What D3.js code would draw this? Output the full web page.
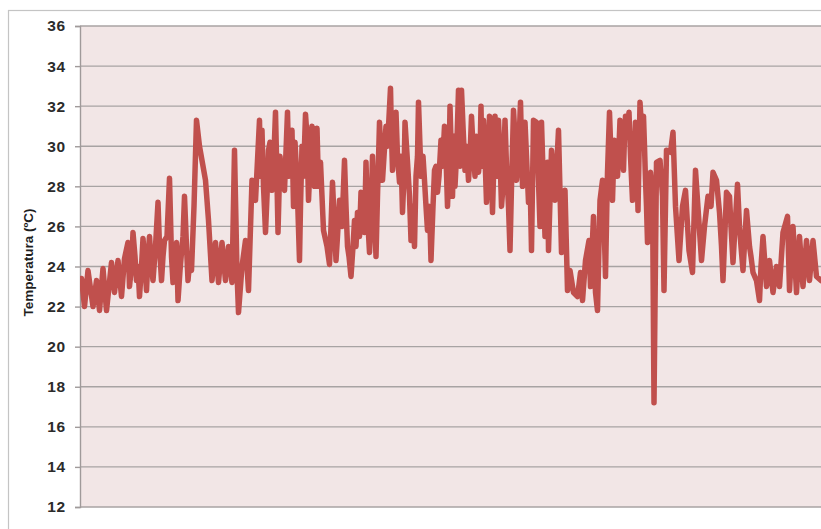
<!DOCTYPE html>
<html>
<head>
<meta charset="utf-8">
<script src="https://cdn.jsdelivr.net/npm/d3@7"></script>
<style>
  html, body { margin: 0; padding: 0; background: #ffffff; }
  svg { display: block; }
</style>
</head>
<body>
<svg id="chart" width="821" height="529"></svg>
<script>
// Temperature log: [hour since start, temperature in ºC]
const readings = [
  [0, 23.0], [3, 23.4], [9, 22.0], [16, 23.8], [26, 22.0], [33, 23.3], [39, 21.8], [46, 23.9],
  [53, 21.8], [63, 24.2], [69, 22.7], [76, 24.3], [83, 22.5], [89, 24.4], [96, 25.2], [99, 23.0],
  [103, 24.0], [106, 25.7], [110, 24.5], [113, 23.3], [116, 24.0], [119, 22.5], [123, 24.0],
  [126, 25.4], [130, 24.0], [133, 22.8], [136, 24.5], [139, 25.5], [143, 24.0], [146, 23.3],
  [151, 25.0], [156, 27.2], [159, 25.0], [163, 23.3], [166, 24.5], [169, 25.3], [174, 25.5],
  [179, 28.4], [183, 24.5], [186, 23.2], [190, 24.0], [193, 25.2], [196, 22.3], [200, 23.8],
  [203, 24.7], [206, 25.5], [209, 27.5], [213, 25.0], [216, 23.3], [220, 24.5], [223, 23.8],
  [228, 27.0], [233, 31.3], [239, 30.0],

  [251, 28.3], [257, 26.3], [264, 23.3], [271, 25.2], [277, 23.2], [284, 25.2], [291, 23.3],
  [297, 25.0], [304, 23.2], [309, 29.8], [314, 23.7], [317, 21.7], [324, 24.0], [331, 25.3],
  [337, 22.8], [344, 28.3], [351, 27.3], [359, 31.3], [361, 28.5], [364, 30.8], [367, 28.0],
  [371, 25.7], [374, 27.5], [377, 29.8], [380, 30.2], [384, 27.8], [387, 29.0], [391, 31.7],
  [393, 29.5], [396, 25.7], [400, 29.5], [404, 28.3], [409, 27.8], [415, 31.7], [418, 28.5],
  [421, 30.3], [424, 30.8], [427, 27.0], [430, 30.2], [434, 28.3], [439, 24.3], [441, 27.0],
  [444, 30.0], [447, 28.5], [451, 31.6], [454, 30.5], [457, 27.3], [460, 29.0], [464, 31.0],
  [469, 28.0], [474, 30.9], [477, 28.0], [481, 29.2], [487, 25.8], [494, 25.0],

  [499, 24.1], [502, 26.0], [505, 28.2], [508, 26.5], [512, 24.3], [515, 25.5], [519, 27.3],
  [524, 26.0], [529, 29.3], [532, 27.0], [535, 25.0], [538, 24.5], [542, 23.5], [546, 25.0],
  [549, 26.3], [552, 25.0], [555, 26.7], [559, 25.5], [562, 27.7], [565, 27.0], [569, 25.7],
  [572, 29.2], [575, 26.5], [579, 24.7], [582, 26.5], [585, 29.5], [589, 26.5], [592, 24.5],
  [595, 27.5], [599, 31.2], [602, 29.5], [605, 28.3], [608, 29.5], [612, 31.0], [615, 30.0],
  [621, 32.9], [623, 30.5], [625, 28.8], [628, 30.0], [632, 31.7], [635, 29.5], [639, 28.2],
  [642, 29.5], [645, 26.7], [648, 28.5], [650, 31.2], [655, 29.2], [659, 27.5], [662, 25.3],
  [665, 27.0], [669, 25.0], [672, 28.5], [675, 29.5], [677, 32.2], [680, 30.0], [682, 28.5],
  [686, 29.5], [689, 28.3], [692, 27.0], [695, 25.8], [699, 27.0], [702, 24.3], [706, 27.0],
  [709, 28.8], [712, 29.0], [715, 27.7], [718, 28.5], [722, 30.3], [725, 29.0], [729, 31.0],
  [732, 29.5], [735, 27.0], [738, 29.0], [740, 32.0],

  [745, 27.5], [748, 30.5], [750, 28.0], [753, 29.5], [757, 32.8], [760, 29.0], [763, 32.8],
  [766, 31.0], [770, 28.8], [773, 30.0], [777, 28.3], [780, 29.5], [783, 31.5], [786, 30.0],
  [790, 28.5], [793, 30.5], [797, 28.7], [800, 29.5], [802, 32.0], [804, 29.0], [807, 31.3],
  [810, 29.5], [813, 27.2], [816, 29.0], [819, 31.5], [822, 29.5], [825, 26.7], [827, 28.5],
  [830, 31.5], [833, 28.5], [837, 31.3], [840, 29.5], [843, 27.0], [846, 28.0], [850, 31.3],
  [853, 29.0], [857, 27.0], [860, 24.8], [863, 28.0], [867, 31.8], [870, 30.5], [873, 28.3],
  [877, 29.5], [881, 32.2], [885, 28.0], [890, 31.2], [893, 29.5], [897, 27.2], [900, 28.5],
  [903, 24.8], [907, 31.3], [913, 31.2], [920, 26.0], [923, 31.2], [930, 25.5], [935, 29.2],
  [937, 24.8], [943, 29.8], [950, 27.3], [957, 30.8], [963, 24.7], [970, 27.8], [975, 22.8],
  [980, 23.8], [987, 22.7],

  [995, 22.5], [1001, 23.7], [1005, 22.3], [1011, 24.3], [1018, 25.3], [1021, 23.0],
  [1027, 26.5], [1031, 22.7], [1035, 21.8], [1040, 27.3], [1045, 28.3], [1048, 26.3],
  [1051, 23.5], [1055, 28.7], [1059, 31.7], [1062, 29.5], [1065, 27.3], [1067, 29.0],
  [1069, 30.3], [1072, 29.5], [1075, 28.5], [1078, 30.0], [1080, 31.3], [1083, 30.0],
  [1087, 28.8], [1089, 30.5], [1091, 31.5], [1094, 30.5], [1098, 31.7], [1101, 29.5],
  [1105, 27.3], [1108, 29.0], [1111, 31.2], [1114, 29.0], [1116, 26.8], [1118, 29.5],
  [1120, 32.2], [1124, 30.5], [1127, 31.5], [1129, 30.0], [1131, 28.3], [1133, 27.0],
  [1135, 25.2], [1138, 27.5], [1141, 28.7], [1145, 27.7], [1148, 17.2], [1153, 29.2],
  [1160, 29.3], [1165, 27.5], [1168, 22.8], [1173, 29.8], [1181, 29.7], [1186, 30.7],
  [1191, 27.0], [1198, 24.3], [1205, 27.0], [1211, 27.8], [1218, 24.8], [1225, 23.7],
  [1231, 28.8],

  [1243, 24.3], [1249, 26.0], [1256, 27.5], [1262, 27.0], [1266, 28.7], [1273, 28.3],
  [1279, 26.7], [1283, 25.0], [1286, 23.3], [1293, 27.7], [1299, 27.5], [1302, 26.0],
  [1306, 24.2], [1315, 28.1], [1319, 26.0], [1322, 25.0], [1326, 23.8], [1333, 26.8],
  [1339, 25.0], [1342, 24.5], [1346, 23.7], [1353, 23.3], [1359, 22.3], [1362, 24.0],
  [1366, 25.5], [1373, 23.0], [1379, 24.3], [1386, 22.7], [1393, 24.0], [1399, 23.0],
  [1406, 25.7], [1415, 26.5], [1419, 22.8], [1426, 26.0], [1433, 22.7], [1439, 25.5],
  [1446, 23.0], [1453, 25.3], [1459, 23.3], [1466, 25.3], [1473, 23.5], [1482, 23.3]
];

// Value axis ticks and title
const yTicks = [12, 14, 16, 18, 20, 22, 24, 26, 28, 30, 32, 34, 36];
const yTitle = "Temperatura (ºC)";

const svg = d3.select("#chart");
const W = 821, H = 529;
const plot = { left: 80, top: 26, right: 824, bottom: 507 };

// Outer chart frame
svg.append("rect")
  .attr("x", 8.5).attr("y", 10.5)
  .attr("width", W + 20).attr("height", H + 20)
  .attr("fill", "#ffffff")
  .attr("stroke", "#c4c4c4")
  .attr("stroke-width", 1.2);

const x = d3.scaleLinear().domain([0, 1488]).range([plot.left, plot.right]);
const y = d3.scaleLinear().domain([12, 36]).range([plot.bottom, plot.top]);

// Plot area background
svg.append("rect")
  .attr("x", plot.left).attr("y", plot.top)
  .attr("width", plot.right - plot.left)
  .attr("height", plot.bottom - plot.top)
  .attr("fill", "#f2e6e6");

// Horizontal gridlines
svg.append("g")
  .selectAll("line")
  .data(yTicks)
  .join("line")
  .attr("x1", plot.left).attr("x2", W)
  .attr("y1", d => y(d)).attr("y2", d => y(d))
  .attr("stroke", "#a8a3a3")
  .attr("stroke-width", 1.4);

// Left axis with outward ticks
const yAxis = d3.axisLeft(y)
  .tickValues(yTicks)
  .tickSize(5)
  .tickPadding(9)
  .tickFormat(d3.format("d"));

const gy = svg.append("g")
  .attr("transform", `translate(${plot.left},0)`)
  .call(yAxis);
gy.select(".domain").attr("stroke", "#a09a9a").attr("stroke-width", 1.4);
gy.selectAll(".tick line").attr("stroke", "#a09a9a").attr("stroke-width", 1.4);
gy.selectAll(".tick text")
  .attr("fill", "#2b2b2b")
  .style("font-family", "'Liberation Sans', Arial, sans-serif")
  .style("font-weight", "bold")
  .style("font-size", "15.5px")
  .style("letter-spacing", "0.8px");

// Axis title
svg.append("text")
  .attr("transform", `translate(33,${(plot.top + plot.bottom) / 2 - 4}) rotate(-90)`)
  .attr("text-anchor", "middle")
  .attr("fill", "#1e1e1e")
  .style("font-family", "'Liberation Sans', Arial, sans-serif")
  .style("font-weight", "bold")
  .style("font-size", "13.5px")
  .text(yTitle);

// Temperature series
const series = readings.map(([h, t]) => ({ h, t }));
const line = d3.line().x(d => x(d.h)).y(d => y(d.t));

svg.append("defs").append("clipPath").attr("id", "plotClip")
  .append("rect")
  .attr("x", plot.left).attr("y", 0)
  .attr("width", W - plot.left).attr("height", H);

svg.append("path")
  .datum(series)
  .attr("clip-path", "url(#plotClip)")
  .attr("d", line)
  .attr("fill", "none")
  .attr("stroke", "#c0504d")
  .attr("stroke-width", 5.5)
  .attr("stroke-linejoin", "round")
  .attr("stroke-linecap", "round");
</script>
</body>
</html>
